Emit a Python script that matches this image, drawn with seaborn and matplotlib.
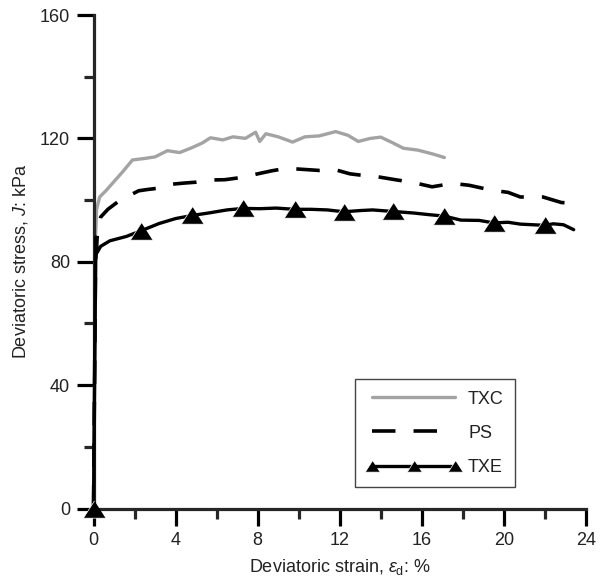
import matplotlib
matplotlib.use("Agg")
import matplotlib.pyplot as plt
import seaborn as sns
import pandas as pd
from matplotlib.ticker import MultipleLocator

# TXC (grey solid)
txc_strain = [0, 0.08, 0.1, 0.15, 0.3, 0.6, 1.0, 1.4, 1.9, 2.5, 3.0, 3.6, 4.2, 4.8, 5.3,
              5.7, 6.3, 6.8, 7.4, 7.9, 8.1, 8.4, 9.0, 9.7, 10.3, 11.0, 11.8, 12.4, 12.9,
              13.5, 14.0, 14.6, 15.1, 15.8, 16.5, 17.1]
txc_stress = [0, 60, 88, 97, 101, 103, 106, 109, 113, 113.5, 114, 116, 115.4, 117, 118.5,
              120.2, 119.5, 120.5, 120, 122, 119, 121.5, 120.5, 118.8, 120.5, 120.8, 122.2,
              121, 119, 120, 120.4, 118.5, 116.8, 116.2, 115, 113.8]

# PS (black dashed)
ps_strain = [0, 0.1, 0.2, 0.35, 0.7, 1.2, 1.6, 2.2, 2.6, 3.1, 3.6, 4.4, 5.0, 5.7, 6.4,
             7.3, 8.0, 8.7, 9.4, 10.1, 11.0, 11.8, 12.5, 13.0, 13.8, 14.8, 15.5, 16.5,
             17.5, 18.3, 19.4, 20.2, 20.8, 21.9, 22.8, 23.3]
ps_stress = [0, 80, 90, 94.5, 97, 99.5, 101, 103, 103.4, 103.8, 105, 105.5, 105.8, 106.5,
             106.6, 107.4, 108.5, 109.5, 110.3, 110, 109.6, 109.8, 108.5, 108.1, 107.6,
             106.5, 105.8, 104.3, 105.4, 104.8, 103.2, 102.5, 101, 101, 99.2, 99]

# TXE (black solid with triangles)
txe_strain = [0, 0.05, 0.1, 0.12, 0.18, 0.35, 0.8, 1.6, 2.3, 3.2, 4.0, 4.8, 5.6, 6.5,
              7.3, 8.1, 8.9, 9.8, 10.6, 11.4, 12.2, 13.0, 13.6, 14.6, 15.6, 16.3, 17.1,
              17.9, 18.8, 19.5, 20.2, 20.8, 22.0, 22.4, 22.9, 23.4]
txe_stress = [0, 40, 75, 88, 83, 85, 86.8, 88.2, 90, 92.4, 94, 95, 95.8, 96.8,
              97.3, 97.2, 97.4, 97.0, 97.0, 96.8, 96.2, 96.6, 96.8, 96.3, 95.8, 95.3, 94.8,
              93.5, 93.4, 92.6, 92.8, 92.2, 91.8, 92.3, 92.0, 90.4]
txe_marker_strain = [0, 2.3, 4.8, 7.3, 9.8, 12.2, 14.6, 17.1, 19.5, 22.0]

sns.set_style("ticks")
plt.rcParams["font.family"] = ["Liberation Sans", "DejaVu Sans"]
plt.rcParams["mathtext.fontset"] = "custom"
plt.rcParams["mathtext.rm"] = "Liberation Sans"
plt.rcParams["mathtext.it"] = "Liberation Sans:italic"

fig = plt.figure(figsize=(6.06, 5.85), dpi=100)
ax = fig.add_axes([93.5 / 606, 1 - 508.5 / 585, 492.5 / 606, 493.5 / 585])

txc = pd.DataFrame({"strain": txc_strain, "stress": txc_stress})
ps = pd.DataFrame({"strain": ps_strain, "stress": ps_stress})
txe = pd.DataFrame({"strain": txe_strain, "stress": txe_stress})
marker_idx = [txe_strain.index(s) for s in txe_marker_strain]

tri = [(0, 0.78), (-1, -0.78), (1, -0.78)]

sns.lineplot(data=txc, x="strain", y="stress", ax=ax, sort=False, estimator=None,
             color="#a3a3a3", lw=2.4, label="TXC", clip_on=False)
sns.lineplot(data=ps, x="strain", y="stress", ax=ax, sort=False, estimator=None,
             color="black", lw=2.6, dashes=False, label="PS", clip_on=False)
ax.lines[-1].set_dashes((6.5, 5))
sns.lineplot(data=txe, x="strain", y="stress", ax=ax, sort=False, estimator=None,
             color="black", lw=2.4, marker=tri, markersize=16, markeredgewidth=0.5,
             markevery=marker_idx, label="TXE", clip_on=False, zorder=3)

ax.set_xlim(0, 24)
ax.set_ylim(0, 160)
ax.xaxis.set_major_locator(MultipleLocator(4))
ax.xaxis.set_minor_locator(MultipleLocator(2))
ax.yaxis.set_major_locator(MultipleLocator(40))
ax.yaxis.set_minor_locator(MultipleLocator(20))
sns.despine(ax=ax)
for sp in ["left", "bottom"]:
    ax.spines[sp].set_linewidth(2.3)
ax.tick_params(which="major", length=12, width=2.3, labelsize=13, pad=5,
               colors="black", labelcolor="#222222")
ax.tick_params(which="minor", length=7, width=2.3)

ax.set_xlabel(r"Deviatoric strain, $\varepsilon_{\mathrm{d}}$: %", fontsize=13,
              labelpad=6, color="#222222")
ax.set_ylabel(r"Deviatoric stress, $J$: kPa", fontsize=13, labelpad=7, color="#222222")

leg = ax.legend(loc="upper left", bbox_to_anchor=(0.531, 0.2624), borderaxespad=0,
                fontsize=13, numpoints=3, markerscale=0.65, handlelength=5.2,
                handletextpad=0.42, borderpad=0.64, labelspacing=0.95,
                fancybox=False, framealpha=1, edgecolor="#444444")
leg.get_frame().set_linewidth(1.0)
for t in leg.get_texts():
    t.set_color("#222222")

fig.savefig("out.png", dpi=100)
